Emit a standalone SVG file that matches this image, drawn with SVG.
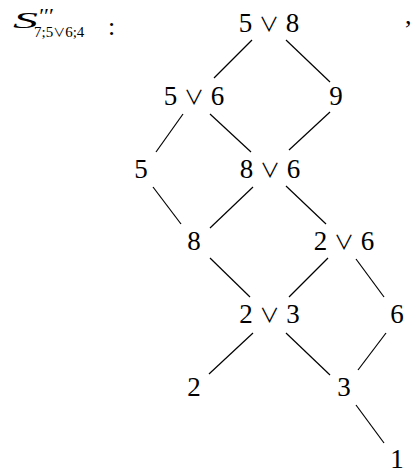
<svg xmlns="http://www.w3.org/2000/svg" width="418" height="475" viewBox="0 0 418 475">
<style>
.n{font-family:"Liberation Serif","DejaVu Serif",serif;font-size:27px;fill:#000;text-anchor:middle}
.v{font-family:"Noto Sans CJK JP","DejaVu Sans",sans-serif;font-size:20px}
.e line{stroke:#000;stroke-width:1.2}
.t{font-family:"Liberation Serif","DejaVu Serif",serif;fill:#000}
</style>
<rect width="418" height="475" fill="#fff"/>
<g id="title">
<text class="t" x="13" y="28" font-size="24" font-style="italic" textLength="25" lengthAdjust="spacingAndGlyphs">S</text>
<text class="t" x="38" y="23" font-size="22" font-style="italic" font-family="DejaVu Serif">′′′</text>
<text class="t" x="34" y="37" font-size="15">7;5<tspan class="v" style="font-size:12px">∨</tspan>6;4</text>
<text class="t" x="108" y="35" font-size="26">:</text>
<text class="t" x="405" y="24" font-size="26">,</text>
</g>
<g class="e" id="connectors">
<line x1="252" y1="40" x2="214" y2="78"/>
<line x1="286" y1="40" x2="330" y2="82"/>
<line x1="183" y1="114" x2="156" y2="152"/>
<line x1="210" y1="114" x2="251" y2="152"/>
<line x1="330" y1="112" x2="289" y2="150"/>
<line x1="153" y1="187" x2="181" y2="224"/>
<line x1="253" y1="187" x2="210" y2="228"/>
<line x1="286" y1="186" x2="326" y2="224"/>
<line x1="210" y1="258" x2="250" y2="297"/>
<line x1="328" y1="258" x2="289" y2="297"/>
<line x1="356" y1="259" x2="384" y2="297"/>
<line x1="253" y1="333" x2="209" y2="374"/>
<line x1="286" y1="333" x2="330" y2="375"/>
<line x1="386" y1="333" x2="358" y2="370"/>
<line x1="356" y1="405" x2="384" y2="443"/>
</g>
<g id="n58"><text class="n" x="269" y="32">5 <tspan class="v">∨</tspan> 8</text></g>
<g id="n56"><text class="n" x="194" y="105">5 <tspan class="v">∨</tspan> 6</text></g>
<g id="n9"><text class="n" x="336" y="105">9</text></g>
<g id="n5"><text class="n" x="141" y="178">5</text></g>
<g id="n86"><text class="n" x="270" y="178">8 <tspan class="v">∨</tspan> 6</text></g>
<g id="n8"><text class="n" x="194" y="250">8</text></g>
<g id="n26"><text class="n" x="344" y="250">2 <tspan class="v">∨</tspan> 6</text></g>
<g id="n23"><text class="n" x="269.5" y="323">2 <tspan class="v">∨</tspan> 3</text></g>
<g id="n6"><text class="n" x="397" y="323">6</text></g>
<g id="n2"><text class="n" x="194" y="396">2</text></g>
<g id="n3"><text class="n" x="344" y="396">3</text></g>
<g id="n1"><text class="n" x="397" y="468">1</text></g>
</svg>
